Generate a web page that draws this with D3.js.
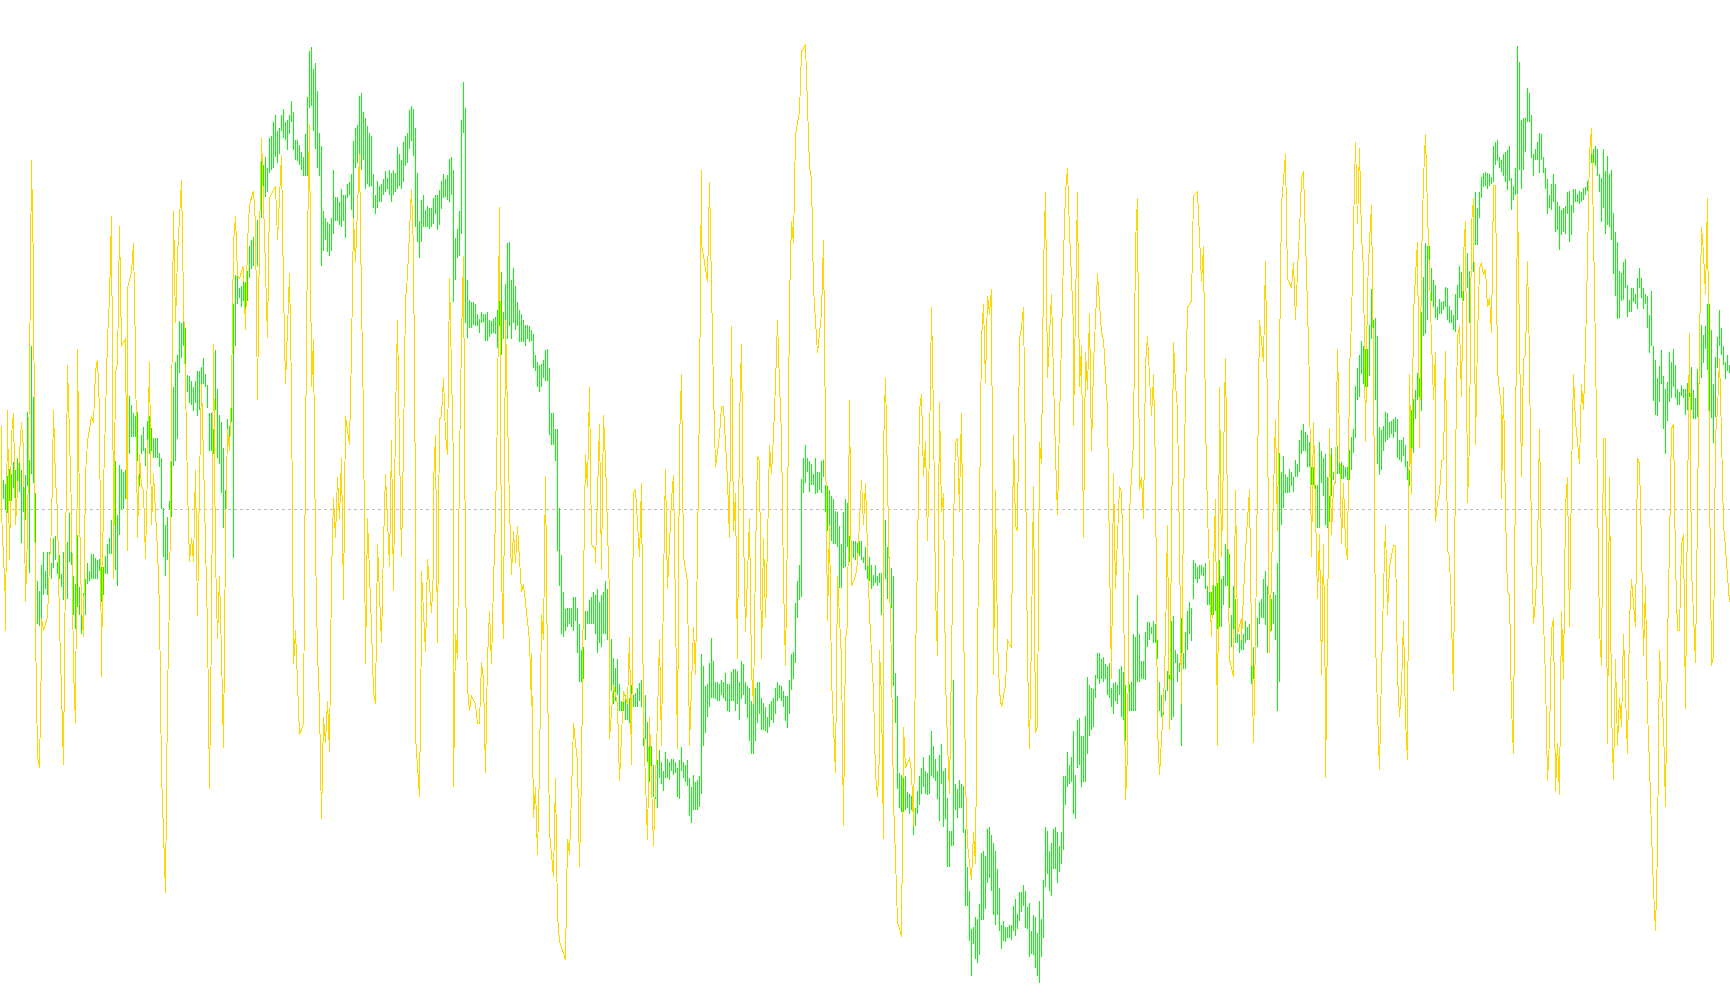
<!DOCTYPE html>
<html>
<head>
<meta charset="utf-8">
<script src="https://cdnjs.cloudflare.com/ajax/libs/d3/7.8.5/d3.min.js"></script>
<style>
  html, body { margin: 0; padding: 0; background: #fff; }
  svg { display: block; }
</style>
</head>
<body>
<div id="chart"></div>
<script>
/* Oscillator panel: green high/low bars, gold signal line, dashed zero level.
 * Values are read off the picture, in the panel's own units. */
const zeroLevel = 0;

// green bars, one [high, low] per bar
const greenBars = [
  [58,15],[45,15],[39,-2],[51,-6],[62,12],[55,12],[73,32],[61,17],[79,32],[84,27],
  [60,-53],[70,-5],[53,-17],[152,35],[77,-100],[255,55],[175,40],[25,-143],[-112,-180],[-128,-183],
  [-88,-173],[-68,-135],[-97,-125],[-67,-135],[-68,-98],[-85,-110],[-45,-93],[-43,-80],[-83,-102],[-72,-110],
  [-102,-122],[-67,-143],[-95,-150],[-52,-140],[-7,-83],[-48,-87],[-105,-165],[-118,-188],[-40,-153],[-122,-165],
  [-132,-195],[-132,-165],[-110,-165],[-85,-117],[-97,-113],[-71,-110],[-71,-110],[-77,-110],[-80,-110],[-78,-97],
  [-90,-145],[-90,-135],[-73,-102],[-55,-102],[-45,-70],[-18,-70],[30,-28],[75,-95],[-9,-121],[68,-40],
  [62,0],[58,0],[60,15],[140,-48],[177,85],[162,113],[150,113],[145,113],[152,75],[85,35],
  [115,85],[128,90],[95,67],[137,80],[145,85],[127,90],[110,80],[110,80],[110,80],[87,65],
  [80,0],[2,-75],[-25,-105],[-13,-80],[13,0],[75,-13],[190,67],[230,75],[240,109],[293,213],
  [290,235],[318,255],[282,208],[209,183],[208,165],[200,162],[190,153],[200,165],[215,145],[215,155],
  [222,170],[235,195],[210,190],[193,158],[150,90],[150,90],[125,85],[248,155],[188,80],[147,70],
  [135,25],[95,-30],[30,-17],[140,90],[130,90],[168,135],[320,-77],[365,255],[367,320],[345,330],
  [348,315],[355,325],[355,310],[372,325],[410,360],[420,375],[425,380],[425,385],[452,380],[425,382],
  [550,455],[537,500],[550,487],[533,495],[580,525],[583,530],[605,533],[615,550],[590,540],[595,555],
  [615,590],[625,580],[605,577],[608,560],[615,585],[637,605],[620,560],[577,545],[577,543],[568,537],
  [558,530],[550,520],[585,520],[643,520],[715,627],[722,630],[687,590],[697,563],[653,533],[588,520],
  [567,380],[465,403],[455,420],[448,402],[445,395],[455,403],[530,430],[488,450],[488,450],[480,443],
  [500,440],[490,450],[490,423],[507,485],[510,490],[523,467],[575,455],[595,533],[600,540],[645,550],
  [650,530],[620,545],[610,500],[598,508],[587,503],[583,505],[523,470],[490,460],[513,470],[505,480],
  [508,480],[515,490],[528,495],[517,500],[530,490],[525,480],[530,490],[525,495],[565,500],[555,505],
  [545,500],[573,510],[583,535],[588,540],[623,563],[630,575],[625,552],[595,440],[525,417],[450,392],
  [483,417],[490,440],[467,440],[473,440],[470,437],[470,440],[485,445],[490,460],[490,435],[498,443],

  [513,468],[523,485],[515,487],[522,483],[547,480],[550,490],[530,323],[423,357],[437,392],[465,395],
  [608,430],[667,588],[627,290],[357,267],[327,282],[323,283],[323,287],[320,285],[305,285],[297,275],
  [308,290],[305,292],[305,262],[307,262],[295,268],[293,273],[297,275],[300,273],[310,252],[335,285],
  [370,240],[307,265],[352,270],[415,265],[417,285],[358,265],[376,290],[348,280],[323,285],[310,260],
  [305,260],[295,260],[288,255],[288,265],[285,260],[280,262],[273,220],[240,215],[229,190],[225,182],
  [227,190],[233,205],[249,200],[250,200],[220,115],[150,100],[150,100],[125,75],[125,-65],[2,-120],
  [-72,-195],[-130,-200],[-157,-190],[-155,-185],[-155,-180],[-155,-185],[-137,-190],[-137,-175],[-155,-225],[-180,-270],
  [-220,-270],[-215,-265],[-160,-205],[-160,-180],[-143,-180],[-137,-180],[-130,-180],[-135,-195],[-125,-225],[-145,-210],
  [-135,-215],[-130,-195],[-112,-195],[-125,-205],[-143,-250],[-203,-285],[-233,-305],[-248,-300],[-235,-290],[-273,-315],
  [-300,-315],[-285,-315],[-290,-330],[-300,-330],[-295,-335],[-275,-315],[-290,-310],[-288,-310],[-280,-310],[-272,-300],
  [-267,-310],[-310,-370],[-290,-360],[-333,-395],[-350,-427],[-370,-425],[-400,-450],[-402,-453],[-392,-467],[-377,-420],
  [-395,-430],[-410,-440],[-380,-420],[-390,-420],[-395,-423],[-390,-410],[-390,-415],[-395,-413],[-405,-450],[-392,-453],
  [-372,-410],[-395,-420],[-400,-427],[-392,-433],[-420,-480],[-435,-490],[-415,-470],[-427,-470],[-423,-470],[-417,-465],
  [-227,-445],[-245,-370],[-277,-350],[-273,-325],[-240,-310],[-202,-295],[-238,-295],[-270,-297],[-270,-300],[-273,-300],
  [-268,-290],[-270,-295],[-257,-300],[-273,-315],[-273,-317],[-255,-300],[-250,-300],[-250,-315],[-253,-305],[-270,-330],
  [-238,-297],[-243,-290],[-270,-305],[-277,-327],[-280,-362],[-300,-383],[-295,-383],[-280,-362],[-270,-335],[-270,-320],
  [-295,-345],[-303,-345],[-310,-347],[-325,-350],[-305,-340],[-300,-330],[-295,-335],[-280,-320],[-270,-300],[-275,-295],
  [-277,-300],[-285,-310],[-293,-332],[-293,-343],[-267,-320],[-227,-283],[-223,-265],[-147,-240],[-113,-170],[-87,-143],
  [47,-137],[80,25],[100,40],[80,57],[75,27],[70,38],[55,38],[80,23],[57,25],[57,30],
  [75,25],[77,50],[38,-5],[35,-35],[30,-35],[20,-50],[15,-55],[-3,-55],[-5,-60],[-27,-123],
  [-55,-123],[-5,-93],[15,-90],[10,-60],[-43,-83],[-55,-83],[-50,-77],[-50,-80],[-53,-75],[-50,-73],
  [-50,-80],[-75,-85],[-60,-95],[-70,-110],[-75,-113],[-87,-125],[-103,-120],[-87,-115],[-105,-120],[-100,-115],

  [-100,-165],[-83,-165],[-18,-110],[-60,-140],[-75,-120],[-93,-155],[-105,-277],[-257,-335],[-293,-437],[-413,-467],
  [-415,-473],[-420,-473],[-417,-470],[-443,-467],[-445,-477],[-448,-470],[-450,-510],[-467,-495],[-440,-477],[-417,-463],
  [-405,-445],[-388,-435],[-410,-445],[-413,-447],[-385,-445],[-347,-418],[-370,-420],[-390,-425],[-410,-453],[-385,-488],
  [-367,-430],[-410,-497],[-405,-485],[-452,-560],[-503,-560],[-503,-527],[-267,-527],[-430,-470],[-437,-483],[-423,-467],
  [-430,-467],[-433,-507],[-500,-620],[-560,-620],[-597,-675],[-657,-729],[-653,-680],[-637,-703],[-640,-710],[-617,-697],
  [-537,-642],[-535,-642],[-543,-625],[-500,-585],[-497,-577],[-510,-597],[-522,-635],[-535,-650],[-563,-635],[-592,-660],
  [-650,-687],[-643,-675],[-653,-677],[-653,-670],[-650,-670],[-650,-673],[-620,-660],[-610,-667],[-633,-657],[-598,-643],
  [-598,-630],[-587,-620],[-597,-655],[-622,-657],[-615,-700],[-660,-695],[-635,-697],[-637,-717],[-663,-730],[-612,-740],
  [-640,-700],[-580,-670],[-497,-590],[-503,-570],[-535,-597],[-522,-605],[-500,-563],[-497,-563],[-505,-585],[-527,-567],
  [-505,-555],[-417,-533],[-417,-463],[-380,-435],[-400,-430],[-388,-427],[-347,-477],[-415,-485],[-330,-405],[-327,-400],
  [-355,-435],[-355,-427],[-323,-427],[-263,-383],[-275,-355],[-280,-345],[-282,-340],[-260,-295],[-225,-265],[-225,-273],
  [-235,-265],[-232,-270],[-243,-265],[-245,-290],[-240,-295],[-280,-310],[-272,-320],[-270,-300],[-275,-305],[-250,-290],
  [-245,-325],[-255,-330],[-275,-363],[-315,-340],[-273,-315],[-270,-315],[-195,-315],[-200,-315],[-135,-270],[-195,-270],
  [-238,-265],[-238,-265],[-192,-267],[-177,-215],[-177,-205],[-185,-195],[-175,-210],[-180,-210],[-205,-235],[-270,-315],
  [-290,-325],[-312,-322],[-283,-300],[-253,-285],[-260,-290],[-175,-330],[-167,-325],[-220,-240],[-227,-270],[-240,-255],
  [-170,-370],[-225,-250],[-193,-250],[-160,-220],[-145,-195],[-155,-207],[-80,-140],[-85,-110],[-90,-115],[-88,-110],
  [-88,-103],[-90,-105],[-85,-125],[-120,-150],[-130,-150],[-130,-165],[-105,-165],[-120,-160],[-115,-187],[-80,-185],
  [-110,-185],[-105,-150],[-55,-120],[-53,-120],[-70,-155],[-165,-215],[-120,-190],[-140,-210],[-175,-210],[-195,-225],
  [-195,-220],[-195,-220],[-175,-210],[-185,-205],[-180,-205],[-195,-273],[-215,-265],[-180,-235],[-170,-215],[-145,-180],
  [-140,-170],[-110,-170],[-97,-182],[-120,-225],[-145,-225],[-140,-190],[-130,-180],[-135,-205],[-85,-315],[87,-270],
  [57,-25],[83,2],[55,25],[50,25],[63,25],[58,35],[50,27],[77,50],[70,50],[107,57],
  [123,85],[132,90],[120,90],[115,65],[105,65],[65,37],[65,37],[37,-30],[37,-30],[105,-30],

  [90,40],[80,20],[85,-25],[50,-30],[20,-20],[95,20],[58,45],[65,40],[98,55],[80,55],
  [73,47],[68,47],[65,50],[65,45],[92,45],[112,60],[125,87],[192,110],[220,170],[240,175],
  [262,210],[255,195],[250,190],[250,190],[288,207],[343,265],[295,220],[298,170],[270,70],[128,53],
  [123,60],[130,90],[152,105],[150,108],[135,110],[137,117],[140,110],[143,120],[140,80],[107,77],
  [107,73],[112,83],[100,65],[75,45],[60,35],[155,25],[172,87],[185,140],[213,170],[205,155],
  [308,153],[363,270],[415,273],[410,295],[410,350],[377,325],[357,315],[350,298],[315,295],[328,305],
  [323,305],[325,310],[347,315],[345,295],[317,290],[310,290],[303,280],[335,277],[350,295],[380,330],
  [370,330],[365,325],[430,395],[400,345],[372,290],[445,392],[457,370],[495,413],[470,413],[495,455],
  [518,485],[525,503],[527,505],[525,500],[523,505],[518,507],[567,510],[573,537],[577,543],[550,533],
  [545,527],[555,520],[557,510],[561,498],[567,513],[517,467],[505,483],[533,490],[723,492],[698,530],
  [608,500],[610,530],

  [610,558],[658,605],[650,605],[615,548],[555,520],[563,545],[573,545],[587,525],[585,545],[550,525],
  [533,500],[515,460],[490,470],[507,467],[523,480],[507,432],[480,435],[473,405],[467,428],[470,433],
  [473,430],[495,460],[497,417],[475,428],[500,462],[500,480],[492,480],[497,477],[495,480],[502,483],
  [503,490],[513,497],[558,545],[580,540],[563,540],[567,535],[563,520],[523,495],[517,448],[563,470],
  [528,429],[552,443],[523,440],[530,420],[462,367],[433,333],[417,297],[372,298],[368,325],[385,327],
  [390,345],[350,300],[327,307],[345,308],[345,323],[335,320],[360,313],[377,345],[360,330],[345,313],
  [335,320],[333,283],[303,243],[340,255],[255,168],[233,147],[205,145],[223,167],[248,195],[208,125],
  [188,85],[198,138],[245,167],[230,173],[250,190],[225,173],[188,163],[183,163],[193,177],[187,173],
  [187,147],[197,155],[220,175],[222,155],[185,140],[173,140],[218,143],[260,195],[288,205],[272,228],
  [285,250],[320,217],[320,123],[280,142],[195,103],[238,143],[268,220],[310,255],[282,240],[255,225],
  [230,203],[240,215],[225,212]
];

// gold line, turning points as [bar, value]
const goldLine = [
  [0,130],[0,-5],[2,-145],[2,-190],[3,155],[4,-80],[5,115],[6,150],[7,-25],[8,30],[9,85],[10,135],[11,95],[12,-145],[13,-40],[14,205],[15,545],[16,375],[17,-190],[18,-385],[19,-405],[20,-225],[20,-170],[21,-190],[23,-170],[24,-85],[25,-30],[26,155],[27,45],[28,-5],[29,-180],[30,-285],[31,-400],[32,-85],[33,225],[34,115],[35,-5],[36,-250],[37,-335],[38,105],[38,250],[39,-5],[40,-155],[41,-200],[42,55],[43,105],[45,145],[46,135],[47,215],[48,233],[49,155],[50,-263],[51,35],[52,145],[53,265],[54,330],[55,457],[56,-25],[56,-110],[57,215],[58,225],[59,442],[60,255],[62,265],[63,-65],[63,345],[65,370],[66,415],[67,245],[68,-45],[69,85],[70,35],[71,30],[72,-78],[73,65],[74,230],[75,-25],[76,55],[78,-65],[79,-155],[80,-415],[81,-505],[82,-600],[83,-290],[84,-140],[85,145],[86,465],[87,290],[88,395],[90,513],[91,325],[92,195],[93,35],[94,-83],[95,-45],[96,-83],[97,60],[98,-168],[99,45],[100,195],[101,80],[102,-55],[103,-185],[104,-437],[105,-185],[106,258],[107,-75],[108,-203],[109,-105],[110,-225],[111,-373],[112,-45],[113,125],[114,90],[115,180],[116,415],[117,458],[118,365],[119,360],[121,380],[122,280],[123,415],[124,475],[126,497],[127,445],[128,170],[129,425],[130,580],[131,480],[133,267],[134,485],[137,505],[138,420],[140,553],[141,345],[142,195],[144,368],[145,185],[146,-243],[147,-190],[149,-353],[151,-335],[152,95],[153,420],[154,602],[155,190],[156,265],[157,-65],[158,-225],[159,-305],[160,-485],[161,-325],[162,-365],[163,-300],[164,-380],[165,-105],[166,17],[167,-45],[168,50],[169,-15],[170,80],[171,-143],[172,145],[174,100],[175,245],[176,455],[177,385],[179,555],[180,325],[181,145],[182,-243],[183,-15],[185,-185],[186,-285],[187,-305],[188,-55],[190,-210],[191,-55],[192,55],[194,-90],[195,107],[196,-127],[197,145],[198,295],[199,95],[200,-75],[201,100],[202,325],[203,365],[205,500],[206,405],[207,5],[207,-355],[209,-450],[210,-185],[210,-97],[212,-223],[213,-78],[215,-163],[216,-95],[216,40],[217,115],[218,-210],[219,140],

  [220,145],[221,205],[222,115],[223,85],[224,360],[226,70],[226,-435],[227,-195],[228,-235],[229,75],[230,265],[231,395],[232,-110],[233,-280],[234,-315],[235,-292],[237,-305],[238,-335],[239,-335],[240,-240],[241,-265],[242,-413],[243,-235],[244,-160],[245,-243],[246,-115],[247,-15],[248,155],[249,472],[250,-105],[251,-203],[252,295],[254,5],[255,-103],[256,-35],[257,-85],[258,-27],[260,-130],[261,-117],[264,-205],[265,-308],[265,-225],[266,-483],[267,-435],[268,-540],[269,-405],[270,-165],[271,-205],[272,52],[273,-255],[274,-505],[276,-575],[277,-420],[278,-635],[279,-675],[282,-705],[283,-515],[284,-540],[285,-445],[286,-335],[288,-395],[289,-560],[290,-415],[291,-115],[292,85],[293,35],[294,190],[295,-55],[297,-65],[297,-85],[299,132],[300,-95],[301,147],[302,75],[304,-135],[304,-360],[306,-275],[308,-305],[309,-425],[311,-285],[313,-305],[314,-200],[315,-400],[316,25],[317,30],[319,-75],[320,40],[321,-335],[323,-517],[324,-325],[326,-527],[328,-325],[329,-203],[330,-370],[331,-115],[332,62],[333,-125],[335,15],[336,53],[338,-375],[339,105],[340,210],[341,-75],[343,-115],[344,-370],[346,-185],[347,-260],[348,-65],[349,175],[350,530],[350,415],[353,355],[354,510],[356,185],[357,65],[359,115],[360,160],[361,160],[363,45],[364,-45],[365,285],[366,-35],[367,25],[368,-235],[369,135],[370,257],[371,-35],[372,-193],[374,-15],[375,-255],[376,-305],[377,-75],[378,82],[379,75],[380,-235],[381,-45],[382,-170],[383,-55],[384,100],[385,55],[386,115],[387,195],[388,295],[389,195],[390,115],[391,-115],[392,-245],[393,-25],[394,325],[395,450],[396,415],[397,585],[399,620],[400,715],[402,725],[404,535],[405,515],[406,345],[408,243],[410,305],[411,420],[412,115],[413,-175],[414,-25],[415,-265],[417,-413],[418,-105],[420,-235],[421,-495],[422,-205],[423,-180],[424,170],[425,-120],[427,-105],[428,-85],[430,45],[431,-25],[432,40],[434,-165],[435,-225],[436,-285],[437,-415],[438,-450],[439,-385],[439,-220],

  [440,-295],[441,-515],[441,95],[442,205],[444,-115],[445,-240],[446,-455],[447,-545],[448,-645],[450,-668],[451,-340],[452,-405],[454,-390],[455,-410],[456,-495],[457,-235],[458,-75],[459,155],[460,180],[461,50],[462,105],[463,-50],[464,95],[465,315],[466,145],[467,-135],[468,-230],[469,167],[470,-5],[471,25],[472,-265],[473,-365],[474,-445],[476,-25],[477,105],[478,110],[479,-5],[479,15],[480,150],[481,-155],[482,-425],[483,-525],[485,-580],[486,-505],[487,-555],[488,-205],[489,-5],[490,265],[491,320],[492,197],[493,333],[494,305],[495,343],[496,-260],[497,30],[498,-205],[499,-285],[500,-310],[502,-275],[503,-205],[505,-217],[506,115],[507,-25],[508,-35],[509,265],[510,285],[511,315],[512,75],[513,-235],[514,-375],[515,-195],[516,35],[517,-350],[518,-340],[519,105],[520,70],[521,375],[522,495],[523,205],[525,335],[526,205],[527,85],[528,-10],[529,135],[531,395],[532,495],[533,532],[534,435],[536,285],[536,130],[538,495],[539,190],[540,255],[541,-45],[542,245],[543,185],[544,305],[545,90],[546,225],[548,367],[550,275],[551,265],[553,155],[554,-75],[555,-265],[556,55],[557,-125],[559,35],[560,25],[561,-105],[562,-455],[563,-385],[564,-5],[566,105],[567,415],[568,485],[569,30],[570,50],[571,-15],[572,225],[573,270],[575,145],[576,205],[576,210],[577,60],[578,-345],[579,-415],[581,-305],[582,-205],[583,-25],[584,-345],[586,260],[587,195],[588,155],[589,-55],[590,-305],[591,5],[592,175],[593,315],[595,325],[596,490],[598,495],[600,355],[601,410],[602,135],[603,-5],[605,-200],[607,15],[608,-370],[609,190],[610,-75],[612,235],[613,-5],[614,-235],[616,-262],[617,30],[618,-195],[620,-170],[620,-205],[622,-65],[624,30],[625,-205],[626,-365],[627,-205],[628,55],[629,295],[631,230],[632,388],[633,145],[634,-225],[636,25],[637,140],[638,-35],[639,235],[640,475],[642,555],[643,360],[645,345],[646,385],[647,295],[648,370],[649,435],[650,515],[651,527],[653,315],[654,195],[655,-75],[656,135],[658,-140],[659,-40],

  [660,-260],[661,-55],[662,-310],[662,-420],[663,-190],[664,127],[665,-40],[666,35],[667,45],[668,250],[669,115],[670,-55],[671,40],[672,-55],[673,-80],[674,215],[675,295],[676,440],[677,573],[678,445],[679,563],[680,425],[681,375],[682,105],[683,345],[684,415],[685,475],[686,220],[687,-205],[688,-315],[689,-408],[690,-255],[691,-125],[692,-25],[693,-165],[694,-90],[696,-57],[697,-57],[698,-260],[699,-325],[700,-280],[701,-175],[702,-330],[703,-393],[704,210],[705,23],[706,305],[707,365],[708,417],[709,95],[710,385],[711,515],[712,585],[713,465],[715,265],[716,170],[717,245],[717,-20],[718,10],[719,25],[720,75],[721,77],[722,247],[723,-65],[724,-75],[725,-175],[726,-285],[727,75],[728,270],[729,285],[730,175],[731,395],[732,450],[733,10],[734,105],[735,445],[736,485],[737,100],[738,265],[739,375],[740,385],[741,365],[742,375],[743,315],[744,330],[745,275],[746,505],[747,505],[748,215],[750,155],[750,15],[751,190],[752,-5],[753,-130],[754,-135],[755,-310],[756,-383],[757,90],[758,490],[759,265],[760,50],[761,235],

  [762,240],[763,387],[764,235],[765,-60],[766,-180],[767,-145],[768,-70],[769,125],[770,-80],[771,-175],[772,-265],[773,-425],[774,-360],[775,-190],[776,-170],[777,-440],[778,-365],[779,-447],[780,-160],[781,-265],[782,5],[783,50],[784,-185],[785,50],[786,210],[787,135],[788,105],[789,70],[790,195],[791,155],[792,250],[793,390],[794,555],[795,595],[796,435],[797,245],[798,25],[799,-190],[800,-245],[801,110],[802,110],[803,-367],[804,50],[805,-315],[806,-423],[807,-235],[808,-370],[809,-295],[810,-340],[811,-195],[813,-383],[814,-175],[815,-110],[817,-185],[818,80],[819,70],[820,-55],[821,-230],[822,-120],[823,-315],[824,-400],[825,-505],[826,-595],[827,-660],[828,-530],[829,-220],[830,-285],[831,-340],[832,-465],[833,-210],[834,-55],[835,125],[836,133],[837,-85],[838,-190],[839,-190],[840,-55],[841,-40],[842,-313],[843,10],[844,275],[845,-95],[846,-165],[847,-240],[848,-5],[849,260],[850,440],[851,400],[852,335],[853,485],[854,45],[855,-245],[856,-230],[857,115],[858,155],[859,235],[860,115],[861,-25],[862,-60],[863,-105],[864,-145]
];

const width = 1730;
const height = 1005;

const svg = d3.select("#chart").append("svg")
  .attr("width", width)
  .attr("height", height)
  .attr("shape-rendering", "crispEdges");

const x = d3.scaleLinear().domain([0, 864]).range([1.5, 1729.5]);
const y = d3.scaleLinear().domain([795, -775]).range([0, 1005]);

// zero level
svg.append("line")
  .attr("x1", 0)
  .attr("x2", width)
  .attr("y1", y(zeroLevel) + 0.5)
  .attr("y2", y(zeroLevel) + 0.5)
  .attr("stroke", "#c0c0c0")
  .attr("stroke-dasharray", "3,3");

svg.append("g").selectAll("line").data(greenBars).join("line")
  .attr("x1", (d, i) => x(i))
  .attr("x2", (d, i) => x(i))
  .attr("y1", d => y(d[0]))
  .attr("y2", d => y(d[1]))
  .attr("stroke", "#00ff00")
  .attr("stroke-width", 1);

const line = d3.line().x(d => x(d[0])).y(d => y(d[1]));

svg.append("path")
  .datum(goldLine)
  .attr("d", line)
  .attr("fill", "none")
  .attr("stroke", "#ffd700")
  .attr("stroke-width", 1);
</script>
</body>
</html>
